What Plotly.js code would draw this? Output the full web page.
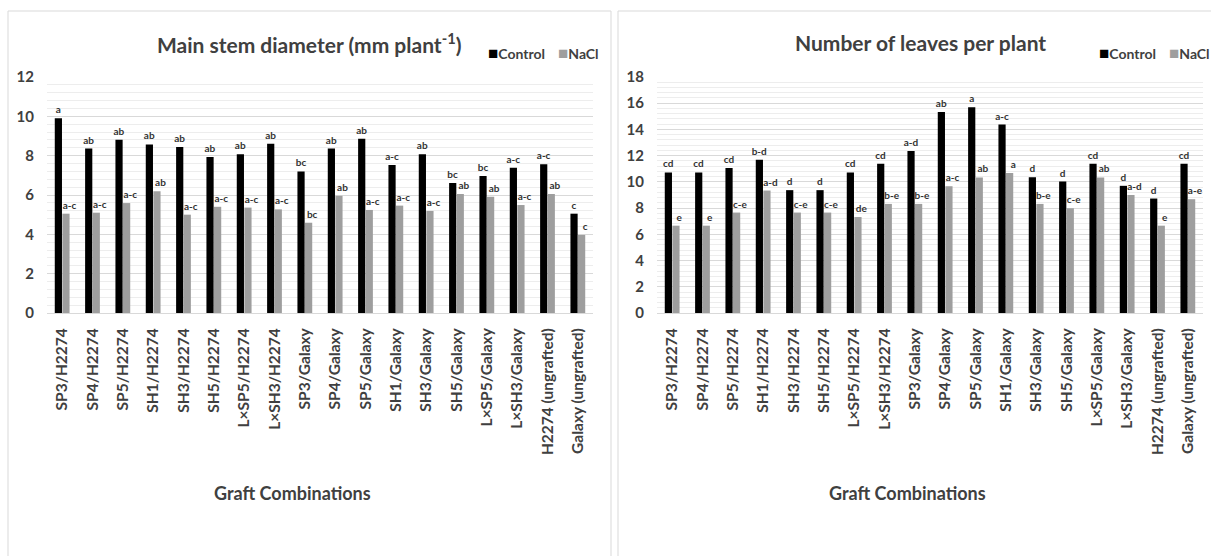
<!DOCTYPE html>
<html>
<head>
<meta charset="utf-8">
<script src="https://cdn.plot.ly/plotly-3.0.1.min.js"></script>
<style>html,body{margin:0;padding:0;background:#fff;}#chart{width:1211px;height:556px;}</style>
</head>
<body>
<div id="chart"></div>
<script>
const categories = ["SP3/H2274","SP4/H2274","SP5/H2274","SH1/H2274","SH3/H2274","SH5/H2274","L×SP5/H2274","L×SH3/H2274","SP3/Galaxy","SP4/Galaxy","SP5/Galaxy","SH1/Galaxy","SH3/Galaxy","SH5/Galaxy","L×SP5/Galaxy","L×SH3/Galaxy","H2274 (ungrafted)","Galaxy (ungrafted)"];

const stemControl = [9.9,8.36,8.81,8.57,8.44,7.93,8.07,8.61,7.2,8.36,8.86,7.53,8.07,6.61,6.97,7.39,7.56,5.05];
const stemNaCl    = [5.05,5.1,5.59,6.19,5.0,5.4,5.36,5.27,4.59,5.96,5.24,5.46,5.19,6.05,5.91,5.49,6.05,3.97];
const stemControlLetters = ["a","ab","ab","ab","ab","ab","ab","ab","bc","ab","ab","a-c","ab","bc","bc","a-c","a-c","c"];
const stemNaClLetters    = ["a-c","a-c","a-c","ab","a-c","a-c","a-c","a-c","bc","ab","a-c","a-c","a-c","ab","ab","a-c","ab","c"];

const leavesControl = [10.72,10.72,11.05,11.69,9.37,9.37,10.72,11.38,12.35,15.34,15.7,14.37,10.36,10.03,11.38,9.7,8.73,11.38];
const leavesNaCl    = [6.66,6.66,7.66,9.34,7.66,7.66,7.32,8.32,8.32,9.67,10.34,10.67,8.32,7.99,10.34,9.0,6.66,8.68];
const leavesControlLetters = ["cd","cd","cd","b-d","d","d","cd","cd","a-d","ab","a","a-c","d","d","cd","d","d","cd"];
const leavesNaClLetters    = ["e","e","c-e","a-d","c-e","c-e","de","b-e","b-e","a-c","ab","a","b-e","c-e","ab","a-d","e","a-e"];

const seriesNames = ["Control","NaCl"];
const colors = ["#000000","#9e9e9e"];
const titles = ["Main stem diameter (mm plant<sup>-1</sup>)","Number of leaves per plant"];
const xTitle = "Graft Combinations";

const FONT = "Lato, 'Open Sans', sans-serif";
const W = 1211, H = 556;
const px = v => v / W;
const py = v => (H - v) / H;

// NaCl letters sit a little to the right of their bar (clear of the black Control bar)
const shiftRight = arr => arr.map(s => "\u00a0\u00a0\u00a0" + s);

function barTrace(y, letters, name, color, xa, ya) {
  return {
    type: "bar", x: categories, y: y, name: name, xaxis: xa, yaxis: ya,
    marker: {color: color, line: {width: 0}},
    text: letters, textposition: "outside", cliponaxis: false, constraintext: "none",
    textfont: {family: FONT, size: 10, color: "#333333", weight: "bold"},
    showlegend: false, hoverinfo: "x+y+name"
  };
}

const data = [
  barTrace(stemControl, stemControlLetters, seriesNames[0], colors[0], "x", "y"),
  barTrace(stemNaCl, shiftRight(stemNaClLetters), seriesNames[1], colors[1], "x", "y"),
  barTrace(leavesControl, leavesControlLetters, seriesNames[0], colors[0], "x2", "y2"),
  barTrace(leavesNaCl, shiftRight(leavesNaClLetters), seriesNames[1], colors[1], "x2", "y2")
];

const xTickFont = {family: FONT, size: 15.5, color: "#404040", weight: "bold"};
const yTickFont = {family: FONT, size: 15, color: "#404040", weight: "bold"};
function xAxis(d, anchor) {
  return {domain: d, anchor: anchor, type: "category", tickangle: -90, tickfont: xTickFont,
    showline: true, linecolor: "#d9d9d9", linewidth: 1, ticks: "", showgrid: false,
    ticklabelstandoff: 8, fixedrange: true};
}
function yAxis(d, anchor, max) {
  return {domain: d, anchor: anchor, range: [0, max], dtick: 2, tickfont: yTickFont,
    showgrid: true, gridcolor: "#d9d9d9", gridwidth: 1, zeroline: false, showline: false,
    ticks: "", ticklabelstandoff: 12,
    minor: {dtick: 0.4, showgrid: true, gridcolor: "#ededed", gridwidth: 1}, fixedrange: true};
}

function legendText(i) {
  return '<span style="font-size:17px;color:' + colors[i] + '">■</span>' + seriesNames[i];
}

const yDom = [py(313), py(77)];
const layout = {
  width: W, height: H, margin: {l: 0, r: 0, t: 0, b: 0},
  paper_bgcolor: "#ffffff", plot_bgcolor: "#ffffff",
  barmode: "group", bargap: 0.5, bargroupgap: 0.05,
  xaxis: xAxis([px(47), px(593)], "y"),
  yaxis: yAxis(yDom, "x", 12),
  xaxis2: xAxis([px(657), px(1203)], "y2"),
  yaxis2: yAxis(yDom, "x2", 18),
  shapes: [
    {type: "rect", xref: "paper", yref: "paper", x0: px(8), x1: px(611), y0: -0.05, y1: py(11), line: {color: "#d9d9d9", width: 1}},
    {type: "rect", xref: "paper", yref: "paper", x0: px(618), x1: 1.05, y0: -0.05, y1: py(11), line: {color: "#d9d9d9", width: 1}}
  ],
  annotations: [
    {xref: "paper", yref: "paper", x: px(309), y: py(43), text: titles[0], showarrow: false, xanchor: "center", yanchor: "middle",
     font: {family: FONT, size: 21, color: "#404040", weight: "bold"}},
    {xref: "paper", yref: "paper", x: px(920), y: py(43), text: titles[1], showarrow: false, xanchor: "center", yanchor: "middle",
     font: {family: FONT, size: 21, color: "#404040", weight: "bold"}},
    {xref: "paper", yref: "paper", x: px(292), y: py(493), text: xTitle, showarrow: false, xanchor: "center", yanchor: "middle",
     font: {family: FONT, size: 18, color: "#404040", weight: "bold"}},
    {xref: "paper", yref: "paper", x: px(907), y: py(493), text: xTitle, showarrow: false, xanchor: "center", yanchor: "middle",
     font: {family: FONT, size: 18, color: "#404040", weight: "bold"}},
    {xref: "paper", yref: "paper", x: px(486), y: py(53), text: legendText(0), showarrow: false, xanchor: "left", yanchor: "middle",
     font: {family: FONT, size: 14, color: "#404040", weight: "bold"}},
    {xref: "paper", yref: "paper", x: px(556), y: py(53), text: legendText(1), showarrow: false, xanchor: "left", yanchor: "middle",
     font: {family: FONT, size: 14, color: "#404040", weight: "bold"}},
    {xref: "paper", yref: "paper", x: px(1097), y: py(53), text: legendText(0), showarrow: false, xanchor: "left", yanchor: "middle",
     font: {family: FONT, size: 14, color: "#404040", weight: "bold"}},
    {xref: "paper", yref: "paper", x: px(1167), y: py(53), text: legendText(1), showarrow: false, xanchor: "left", yanchor: "middle",
     font: {family: FONT, size: 14, color: "#404040", weight: "bold"}}
  ]
};

Plotly.newPlot("chart", data, layout, {displayModeBar: false, staticPlot: true});
</script>
</body>
</html>
